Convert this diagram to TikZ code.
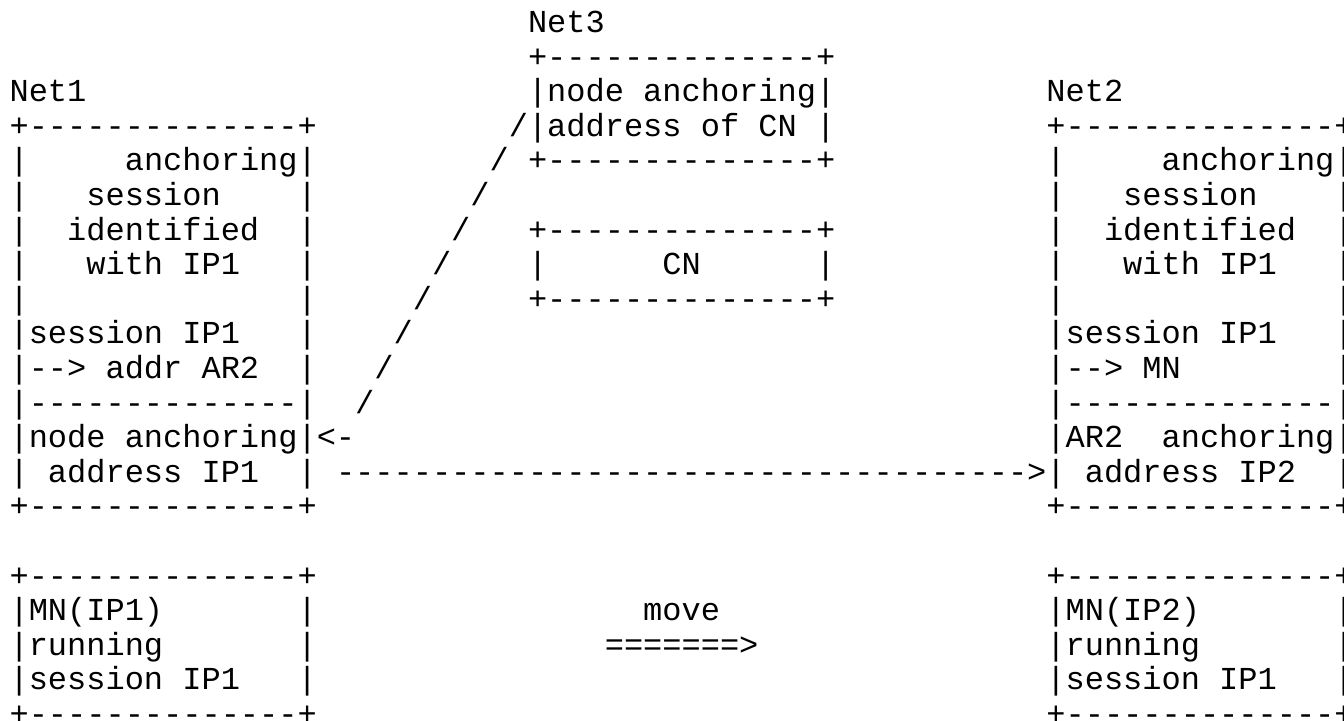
\documentclass[tikz,border=0pt]{standalone}
\usepackage{fontspec}
\setmonofont{Liberation Mono}
\tikzset{
  txt/.style={anchor=base west, inner sep=0pt, outer sep=0pt,
    font=\ttfamily\fontsize{16}{17.3}\selectfont, text=black}
}
% \seg{name}{column}{row}{text}
\newcommand\seg[4]{\node[txt] (#1) at ({4.8pt+9.6pt*#2},{-16.25pt-17.3pt*#3}) {#4};}
\begin{document}
\begin{tikzpicture}
\clip (0,0) rectangle (672pt,-360.5pt);
\fill[white] (0,0) rectangle (672pt,-360.5pt);
% Net3
\seg{netthree}{27}{0}{Net3}
\seg{cnaT}{27}{1}{+--------------+}
\seg{cnaA}{27}{2}{|node anchoring|}
\seg{cnaB}{26}{3}{/|address of CN |}
\seg{cnaC}{27}{4}{+--------------+}
\seg{cnT}{27}{6}{+--------------+}
\seg{cnM}{27}{7}{|~~~~~~CN~~~~~~|}
\seg{cnB}{27}{8}{+--------------+}
% slash connector
\seg{sl4}{25}{4}{/}
\seg{sl5}{24}{5}{/}
\seg{sl6}{23}{6}{/}
\seg{sl7}{22}{7}{/}
\seg{sl8}{21}{8}{/}
\seg{sl9}{20}{9}{/}
\seg{sl10}{19}{10}{/}
\seg{sl11}{18}{11}{/}
% Net1
\seg{netone}{0}{2}{Net1}
\seg{aT}{0}{3}{+--------------+}
\seg{a4}{0}{4}{|~~~~~anchoring|}
\seg{a5}{0}{5}{|~~~session~~~~|}
\seg{a6}{0}{6}{|~~identified~~|}
\seg{a7}{0}{7}{|~~~with IP1~~~|}
\seg{a8}{0}{8}{|~~~~~~~~~~~~~~|}
\seg{a9}{0}{9}{|session IP1~~~|}
\seg{a10}{0}{10}{|--> addr AR2~~|}
\seg{a11}{0}{11}{|--------------|}
\seg{a12}{0}{12}{|node anchoring|<-}
\seg{a13}{0}{13}{|~address IP1~~|}
\seg{aB}{0}{14}{+--------------+}
% dashed arrow
\seg{arrow}{17}{13}{------------------------------------>}
% Net2
\seg{nettwo}{54}{2}{Net2}
\seg{bT}{54}{3}{+--------------+}
\seg{b4}{54}{4}{|~~~~~anchoring|}
\seg{b5}{54}{5}{|~~~session~~~~|}
\seg{b6}{54}{6}{|~~identified~~|}
\seg{b7}{54}{7}{|~~~with IP1~~~|}
\seg{b8}{54}{8}{|~~~~~~~~~~~~~~|}
\seg{b9}{54}{9}{|session IP1~~~|}
\seg{b10}{54}{10}{|--> MN~~~~~~~~|}
\seg{b11}{54}{11}{|--------------|}
\seg{b12}{54}{12}{|AR2~~anchoring|}
\seg{b13}{54}{13}{|~address IP2~~|}
\seg{bB}{54}{14}{+--------------+}
% MN boxes
\seg{mT}{0}{16}{+--------------+}
\seg{m17}{0}{17}{|MN(IP1)~~~~~~~|}
\seg{m18}{0}{18}{|running~~~~~~~|}
\seg{m19}{0}{19}{|session IP1~~~|}
\seg{mB}{0}{20}{+--------------+}
\seg{nT}{54}{16}{+--------------+}
\seg{n17}{54}{17}{|MN(IP2)~~~~~~~|}
\seg{n18}{54}{18}{|running~~~~~~~|}
\seg{n19}{54}{19}{|session IP1~~~|}
\seg{nB}{54}{20}{+--------------+}
% move
\seg{move}{33}{17}{move}
\seg{movearrow}{31}{18}{=======>}
\end{tikzpicture}
\end{document}
